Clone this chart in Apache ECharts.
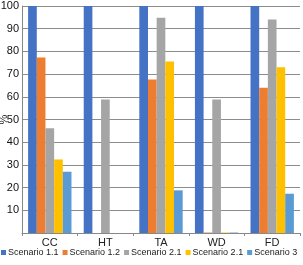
<!DOCTYPE html>
<html><head><meta charset="utf-8">
<script src="https://cdn.jsdelivr.net/npm/echarts@6/dist/echarts.min.js"></script>
<style>html,body{margin:0;padding:0;background:#fff}#c{width:303px;height:265px}</style>
</head><body><div id="c"></div>
<script>
var categories = ['CC','HT','TA','WD','FD'];
var seriesNames = ['Scenario 1.1','Scenario 1.2','Scenario 2.1','Scenario 2.1\u200b','Scenario 3'];
var s11 = [100,100,100,100,100];
var s12 = [77.3,0,67.6,0.2,64.0];
var s21a = [46.1,58.8,94.8,58.8,94.1];
var s21b = [32.4,0,75.5,0.2,73.0];
var s3 = [27.0,0,18.8,0.2,17.3];
var colors = ['#4472C4','#ED7D31','#A5A5A5','#FFC000','#5B9BD5'];
var data = [s11,s12,s21a,s21b,s3];
var font = 'Liberation Sans, Arial, sans-serif';
var chart = echarts.init(document.getElementById('c'));
chart.setOption({
  animation:false,
  color:colors,
  grid:{left:22,right:3,top:6,bottom:32,outerBoundsMode:'none'},
  legend:{bottom:8,left:1,width:302,padding:0,itemWidth:5,itemHeight:5,itemGap:4,icon:'rect',
    textStyle:{fontFamily:font,fontSize:9,color:'#222',padding:[0,0,0,-3]},
    data:seriesNames},
  xAxis:{type:'category',data:categories,
    axisLine:{lineStyle:{color:'#888'}},
    axisTick:{show:true,length:3,lineStyle:{color:'#888'}},
    axisLabel:{fontFamily:font,fontSize:11,color:'#222',margin:4}},
  yAxis:{type:'value',min:0,max:100,interval:10,name:'%',nameLocation:'middle',nameGap:13,
    nameMoveOverlap:false,
    nameTextStyle:{fontFamily:font,fontSize:11,color:'#222'},
    axisLine:{show:true,lineStyle:{color:'#888'}},
    axisTick:{show:false},
    splitLine:{lineStyle:{color:'#8c8c8c',width:1}},
    axisLabel:{fontFamily:font,fontSize:11,color:'#111',margin:3,
      formatter:function(v){return v===0?'':v;}}},
  series:data.map(function(d,i){return {name:seriesNames[i],type:'bar',data:d,
    barGap:'0%',barCategoryGap:'22%'};})
});
</script></body></html>
